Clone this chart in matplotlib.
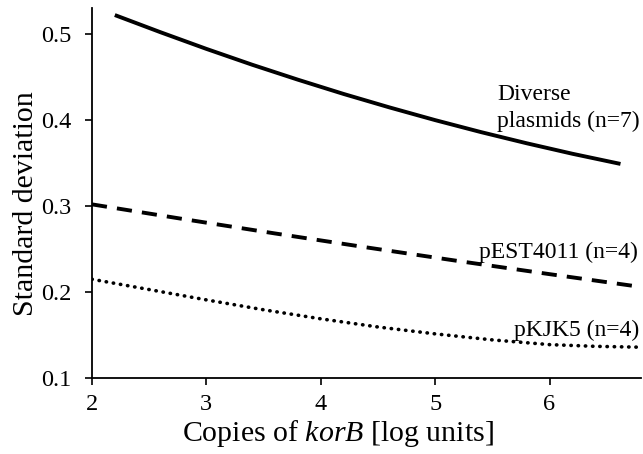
import matplotlib
matplotlib.use("Agg")
import matplotlib.pyplot as plt

# values
x_diverse = [2.2, 2.6, 3.0, 3.4, 3.8, 4.2, 4.6, 5.0, 5.4, 5.8, 6.2, 6.62]
sd_diverse = [0.522, 0.502, 0.4827, 0.4643, 0.4469, 0.4303, 0.4147, 0.3999,
              0.386, 0.373, 0.3608, 0.349]

x_pest = [2.0, 2.8, 3.6, 4.4, 5.2, 6.0, 6.8]
sd_pest = [0.302, 0.2849, 0.2682, 0.252, 0.2362, 0.2209, 0.206]

x_pkjk = [2.0, 2.5, 3.0, 3.5, 4.0, 4.5, 5.0, 5.5, 6.0, 6.4, 6.8]
sd_pkjk = [0.215, 0.203, 0.191, 0.1795, 0.169, 0.1595, 0.1515, 0.1445,
           0.139, 0.137, 0.136]

xticks = [2, 3, 4, 5, 6]
yticks = [0.1, 0.2, 0.3, 0.4, 0.5]

plt.rcParams['font.family'] = ['Liberation Serif', 'DejaVu Serif']
plt.rcParams['mathtext.fontset'] = 'custom'
plt.rcParams['mathtext.it'] = 'Liberation Serif:italic'
plt.rcParams['mathtext.rm'] = 'Liberation Serif'

fig = plt.figure(figsize=(6.43, 4.54), dpi=100)
ax = fig.add_axes([0.143, 0.167, 0.854, 0.815])

ax.plot(x_diverse, sd_diverse, color='black', lw=2.8, solid_capstyle='butt')
ax.plot(x_pest, sd_pest, color='black', lw=2.8, linestyle=(0, (3.9, 2.6)))
ax.plot(x_pkjk, sd_pkjk, color='black', lw=2.6, linestyle=(0, (0.1, 1.9)),
        dash_capstyle='round')

ax.text(5.54, 0.4235, 'Diverse', fontsize=17, ha='left', va='baseline')
ax.text(5.54, 0.392, 'plasmids (n=7)', fontsize=17, ha='left', va='baseline')
ax.text(6.77, 0.240, 'pEST4011 (n=4)', fontsize=17, ha='right', va='baseline')
ax.text(6.78, 0.149, 'pKJK5 (n=4)', fontsize=17, ha='right', va='baseline')

ax.set_xlim(2, 6.8)
ax.set_ylim(0.1, 0.53)
ax.set_xticks(xticks)
ax.set_yticks(yticks)
ax.set_yticklabels(['%.1f' % v for v in yticks])
ax.tick_params(labelsize=17.5, direction='out', length=5, width=1.2)
ax.tick_params(axis='y', pad=9.5)
ax.tick_params(axis='x', pad=6.5)

for s in ['top', 'right']:
    ax.spines[s].set_visible(False)
for s in ['left', 'bottom']:
    ax.spines[s].set_linewidth(1.3)

ax.set_xlabel('Copies of $korB$ [log units]', fontsize=21.5, va='baseline')
ax.set_ylabel('Standard deviation', fontsize=21.5, va='baseline')
ax.xaxis.set_label_coords(0.448, -0.1695)
ax.yaxis.set_label_coords(-0.1075, 0.472)

fig.savefig('out.png', dpi=100)
